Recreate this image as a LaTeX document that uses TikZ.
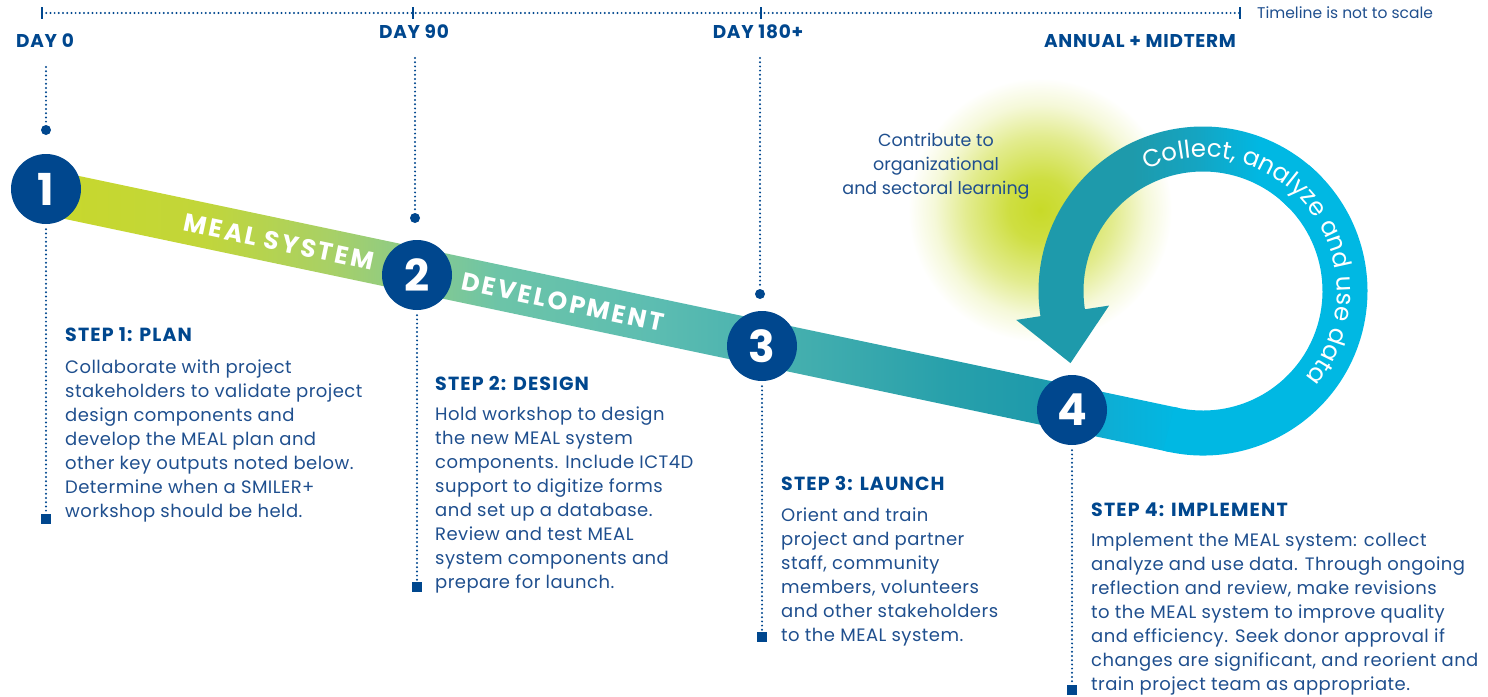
\documentclass[tikz,border=0pt]{standalone}
\usepackage{fontspec}
\setmainfont{Poppins}
\newfontfamily\bodyfont{Poppins}[LetterSpace=2.5]
\newfontfamily\headfont{Poppins}[LetterSpace=6]
\newfontfamily\bandfont{Poppins}[LetterSpace=10]
\newfontfamily\dayfont{Poppins}[LetterSpace=4]
\newfontfamily\ringfam{Poppins}[LetterSpace=1]
\usetikzlibrary{calc,decorations.text}
\definecolor{navy}{HTML}{00478E}
\definecolor{bodyc}{HTML}{1F4F8E}
\definecolor{tealc}{HTML}{1E9AAB}
\definecolor{cyanc}{HTML}{00B8E3}
\definecolor{ygc}{HTML}{C8D82C}
\definecolor{glowc}{HTML}{C8DA28}
\definecolor{bA}{HTML}{C2D639}
\definecolor{bB}{HTML}{A8D066}
\definecolor{bC}{HTML}{88CA8D}
\definecolor{bD}{HTML}{6CC4A8}
\definecolor{bE}{HTML}{5DBDB1}
\definecolor{bF}{HTML}{3FACAE}
\definecolor{bG}{HTML}{27A0AB}
\definecolor{bH}{HTML}{0DAED5}
\definecolor{rmid}{HTML}{14A5C3}
\pgfdeclarehorizontalshading{bandshade}{100bp}{color(0bp)=(ygc); color(25bp)=(ygc); color(32bp)=(bA); color(37.7bp)=(bB); color(41.6bp)=(bC); color(45.2bp)=(bD); color(51.8bp)=(bE); color(59.5bp)=(bF); color(65bp)=(bG); color(68.9bp)=(tealc); color(72bp)=(bH); color(75bp)=(cyanc); color(100bp)=(cyanc)}
\pgfdeclarehorizontalshading{ringshade}{100bp}{color(0bp)=(tealc); color(25bp)=(tealc); color(44bp)=(tealc); color(55bp)=(rmid); color(65bp)=(cyanc); color(75bp)=(cyanc); color(100bp)=(cyanc)}
\pgfdeclareradialshading{glowshade}{\pgfpoint{0bp}{0bp}}{color(0bp)=(glowc); color(6bp)=(glowc!88!white); color(14bp)=(glowc!52!white); color(20bp)=(glowc!18!white); color(25bp)=(white); color(50bp)=(white)}
\newcommand\ringfont{\ringfam\fontsize{24.5}{24.5}\selectfont}
\tikzset{
  dotline/.style={navy, line width=2.2pt, line cap=round, dash pattern=on 0pt off 4.2pt},
  tickmark/.style={navy, line width=1.8pt},
  stepnum/.style={circle, fill=navy, minimum size=70pt, inner sep=0pt, text=white, font=\fontsize{44}{44}\selectfont\bfseries},
  tdot/.style={circle, fill=navy, minimum size=10pt, inner sep=0pt},
  sqend/.style={rectangle, fill=navy, minimum size=10pt, inner sep=0pt},
  daylab/.style={text=navy, font=\dayfont\fontsize{18.5}{18.5}\selectfont\bfseries, inner sep=0pt},
  stephead/.style={text=navy, font=\headfont\fontsize{19}{20}\selectfont\bfseries, anchor=west, inner sep=0pt},
  stepbody/.style={text=bodyc, font=\bodyfont\fontsize{18}{24}\selectfont, anchor=north west, align=left, inner sep=0pt},
  bandtxt/.style={text=white, font=\bandfont\fontsize{25}{25}\selectfont\bfseries, rotate=-11.92, inner sep=0pt},
  notetxt/.style={text=bodyc, font=\fontsize{15.5}{16}\selectfont, inner sep=0pt},
  learntxt/.style={text=bodyc, font=\fontsize{17.5}{24}\selectfont, align=center, inner sep=0pt},
}
\begin{document}
\begin{tikzpicture}[x=1pt,y=-1pt]
\useasboundingbox (0,0) rectangle (1488,696);
% glow
\shade[shading=glowshade] (1040,210) circle (132);
% timeline
\coordinate (tl0) at (42,13);
\coordinate (tl1) at (413,13);
\coordinate (tl2) at (761,13);
\coordinate (tl3) at (1240,13);
\draw[dotline] (tl0) -- (tl3);
\foreach \p in {tl0,tl1,tl2,tl3} \draw[tickmark] ($(\p)+(0,-6)$) -- ($(\p)+(0,6)$);
\node[notetxt, anchor=west] (note) at (1257,13) {Timeline is not to scale};
% day labels
\node[daylab] (d0) at (45,41) {DAY 0};
\node[daylab] (d90) at (414,32) {DAY 90};
\node[daylab] (d180) at (758,32) {DAY 180+};
\node[daylab] (dann) at (1140,41) {ANNUAL + MIDTERM};
% band
\coordinate (C) at (1203,291);
\shade[shading=bandshade] (50.6,170.0) -- (1178.3,407.9) -- (1169.1,451.9) -- (41.4,214.0) -- cycle;
% ring part A
\fill[cyanc] ($(C)+(104:164.5)$) arc[start angle=104, end angle=-50, radius=164.5]
  -- ($(C)+(-50:119.5)$) arc[start angle=-50, end angle=104, radius=119.5] -- cycle;
% ring part B with arrowhead
\shade[shading=ringshade] ($(C)+(-44:164.5)$) arc[start angle=-44, end angle=-188.8, radius=164.5]
  -- ($(C)+(-188.8:189)$) -- ($(C)+(-188.8:142)+(7.8,50.4)$) -- ($(C)+(-188.8:95)$)
  -- ($(C)+(-188.8:119.5)$) arc[start angle=-188.8, end angle=-44, radius=119.5] -- cycle;
% ring text
\path[decorate, decoration={text along path, text color=white, text align=left,
  text={|\ringfont|Collect{,} analyze and use data}}]
  ($(C)+(-115:134)$) arc[start angle=-115, end angle=80, radius=134];
% band texts
\node[bandtxt] (bt1) at (279,242) {MEAL SYSTEM};
\node[bandtxt] (bt2) at (563,302) {DEVELOPMENT};
% step circles
\node[stepnum] (n1) at (46,189) {1};
\node[stepnum] (n2) at (417,275) {2};
\node[stepnum] (n3) at (762,346) {3};
\node[stepnum] (n4) at (1072,410) {4};
% upper connectors
\coordinate (s0) at (46,67);
\coordinate (s90) at (415,58);
\coordinate (s180) at (760,58);
\node[tdot] (t0) at (46,130) {};
\node[tdot] (t90) at (415,218) {};
\node[tdot] (t180) at (760,294) {};
\draw[dotline] (s0) -- (t0);
\draw[dotline] (s90) -- (t90);
\draw[dotline] (s180) -- (t180);
% lower connectors
\node[sqend] (q1) at (46,519) {};
\node[sqend] (q2) at (417,587) {};
\node[sqend] (q3) at (762,637) {};
\node[sqend] (q4) at (1072,690) {};
\draw[dotline, shorten <=5pt] (n1) -- (q1);
\draw[dotline, shorten <=5pt] (n2) -- (q2);
\draw[dotline, shorten <=5pt] (n3) -- (q3);
\draw[dotline, shorten <=5pt] (n4) -- (q4);
% learning text
\node[learntxt] (learn) at (936,166) {Contribute to\\organizational\\and sectoral learning};
% step texts
\node[stephead] (h1) at (65,335) {STEP 1: PLAN};
\node[stepbody] (b1) at (65,359.4) {Collaborate with project\\stakeholders to validate project\\design components and\\develop the MEAL plan and\\other key outputs noted below.\\Determine when a SMILER+\\workshop should be held.};
\node[stephead] (h2) at (435,383) {STEP 2: DESIGN};
\node[stepbody] (b2) at (435,406.7) {Hold workshop to design\\the new MEAL system\\components. Include ICT4D\\support to digitize forms\\and set up a database.\\Review and test MEAL\\system components and\\prepare for launch.};
\node[stephead] (h3) at (781,483) {STEP 3: LAUNCH};
\node[stepbody] (b3) at (781,507.7) {Orient and train\\project and partner\\staff, community\\members, volunteers\\and other stakeholders\\to the MEAL system.};
\node[stephead] (h4) at (1091,509.7) {STEP 4: IMPLEMENT};
\node[stepbody] (b4) at (1091,533.4) {Implement the MEAL system: collect\\analyze and use data. Through ongoing\\reflection and review, make revisions\\to the MEAL system to improve quality\\and efficiency. Seek donor approval if\\changes are significant, and reorient and\\train project team as appropriate.};
\end{tikzpicture}
\end{document}
